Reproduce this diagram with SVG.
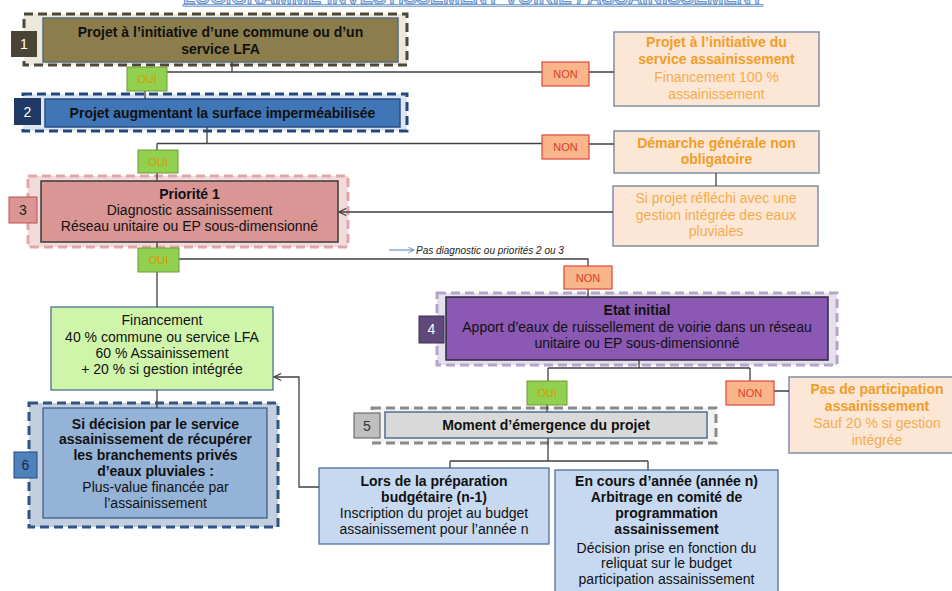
<svg xmlns="http://www.w3.org/2000/svg" width="952" height="591" viewBox="0 0 952 591">
<defs>
<style>
text{font-family:"Liberation Sans",Arial,sans-serif;}
.t{font-size:14px;fill:#111;text-anchor:middle;}
.b{font-weight:bold;}
.num{font-size:14px;text-anchor:middle;}
.con{fill:none;stroke:#404040;stroke-width:1.3;}
.oui rect{fill:#92d050;stroke:#6f9a3a;stroke-width:1;}
.oui text{font-size:11px;fill:#d89a00;text-anchor:middle;}
.non rect{fill:#f9b68a;stroke:#e0443c;stroke-width:1.2;}
.non text{font-size:11px;fill:#e03a2c;text-anchor:middle;}
.rbox{fill:#fce6d6;stroke:#7f8ea6;stroke-width:1.5;}
.ob{font-size:14px;font-weight:bold;fill:#f09e28;text-anchor:middle;}
.on{font-size:14px;fill:#f4ad4c;text-anchor:middle;}
.dash{stroke-width:3;stroke-dasharray:9 5;}
.lb{fill:#c6d9f1;stroke:#4f6f9f;stroke-width:1.3;}
</style>
<marker id="arr" viewBox="0 0 10 10" refX="9" refY="5" markerWidth="9" markerHeight="9" orient="auto" markerUnits="userSpaceOnUse">
<path d="M1,1 L9,5 L1,9" fill="none" stroke="#404040" stroke-width="1.3"/>
</marker>
<marker id="arrb" viewBox="0 0 10 10" refX="9" refY="5" markerWidth="7" markerHeight="7" orient="auto" markerUnits="userSpaceOnUse">
<path d="M1,1 L9,5 L1,9" fill="none" stroke="#4f81bd" stroke-width="1.2"/>
</marker>
</defs>
<rect width="952" height="591" fill="#ffffff"/>

<g id="title">
<text x="183" y="4" font-size="20" font-weight="bold" fill="#c6d9f1" stroke="#4f81bd" stroke-width="0.8" textLength="580" lengthAdjust="spacingAndGlyphs">LOGIGRAMME INVESTISSEMENT VOIRIE / ASSAINISSEMENT</text>
<rect x="183" y="4.5" width="580" height="1.8" fill="#c6d9f1" stroke="#4f81bd" stroke-width="0.6"/>
</g>

<g id="node1">
<rect x="24" y="14" width="383" height="51" fill="#ece8dc" stroke="#4d4835" class="dash"/>
<rect x="43" y="18" width="355" height="44" fill="#8c7e4c" stroke="#5a6a80" stroke-width="1.5"/>
<text class="t b" x="220.5"><tspan x="220.5" y="37">Projet à l’initiative  d’une commune ou d’un</tspan><tspan x="220.5" y="54">service LFA</tspan></text>
<rect x="11" y="31" width="26" height="26" fill="#4a4434"/>
<text class="num" x="24" y="49" fill="#ffffff">1</text>
</g>

<g id="node2">
<rect x="23" y="94" width="384" height="37" fill="#dce6f2" stroke="#1f497d" class="dash"/>
<rect x="45" y="99" width="355" height="28" fill="#4076b8" stroke="#2a4f80" stroke-width="1.5"/>
<text class="t b" x="222.5" y="118">Projet augmentant la surface imperméabilisée</text>
<rect x="14" y="98" width="27" height="27" fill="#1f3864"/>
<text class="num" x="27.5" y="117" fill="#ffffff">2</text>
</g>

<g id="node3">
<rect x="28" y="176" width="320" height="71" fill="#f2dcdb" stroke="#e2a6a8" class="dash"/>
<rect x="41" y="181" width="297" height="61" fill="#d99694" stroke="#3a3a3a" stroke-width="1.5"/>
<text class="t" x="189.5"><tspan class="b" x="189.5" y="199">Priorité 1</tspan><tspan x="189.5" y="215">Diagnostic assainissement</tspan><tspan x="189.5" y="231">Réseau unitaire ou EP sous-dimensionné</tspan></text>
<rect x="9" y="197" width="28" height="26" fill="#d99694" stroke="#c0504d" stroke-width="1"/>
<text class="num" x="23" y="215" fill="#222">3</text>
</g>

<g id="nodeA">
<rect class="rbox" x="614" y="32" width="205" height="74"/>
<text class="ob" x="716.5" y="47">Projet à l’initiative  du</text>
<text class="ob" x="716.5" y="64">service assainissement</text>
<text class="on" x="716.5" y="82">Financement 100 %</text>
<text class="on" x="716.5" y="99">assainissement</text>
</g>

<g id="nodeB">
<rect class="rbox" x="614" y="131" width="205" height="42"/>
<text class="ob" x="716.5" y="148">Démarche générale non</text>
<text class="ob" x="716.5" y="164">obligatoire</text>
</g>

<g id="nodeC">
<rect class="rbox" x="613" y="186" width="205" height="60"/>
<text class="on" x="716" y="203">Si projet réfléchi avec une</text>
<text class="on" x="716" y="220">gestion intégrée des eaux</text>
<text class="on" x="716" y="236">pluviales</text>
</g>

<g id="financement">
<rect x="51" y="307" width="222" height="83" fill="#cff5ab" stroke="#4a7090" stroke-width="1.3"/>
<text class="t" x="162"><tspan x="162" y="325">Financement</tspan><tspan x="162" y="342">40 % commune ou service LFA</tspan><tspan x="162" y="358">60 % Assainissement</tspan><tspan x="162" y="374">+ 20 % si gestion intégrée</tspan></text>
</g>

<g id="node4">
<rect x="437" y="293" width="400" height="72" fill="#e6e0ee" stroke="#b3a5c8" class="dash"/>
<rect x="446" y="297" width="382" height="63" fill="#8b58b3" stroke="#2a2a3a" stroke-width="1.5"/>
<text class="t" x="637"><tspan class="b" x="637" y="315">Etat initial</tspan><tspan x="637" y="332">Apport d’eaux de ruissellement de voirie dans un réseau</tspan><tspan x="637" y="348">unitaire ou EP sous-dimensionné</tspan></text>
<rect x="419" y="316" width="25" height="27" fill="#5f497a" stroke="#3f3151" stroke-width="1"/>
<text class="num" x="431.5" y="334" fill="#ffffff">4</text>
</g>

<g id="nodeD">
<rect class="rbox" x="789" y="377" width="175" height="76"/>
<text class="ob" x="877" y="394">Pas de participation</text>
<text class="ob" x="877" y="411">assainissement</text>
<text class="on" x="877" y="428">Sauf 20 % si gestion</text>
<text class="on" x="877" y="445">intégrée</text>
</g>

<g id="node5">
<rect x="372" y="408" width="344" height="35" fill="#f2f2f2" stroke="#8a8a8a" class="dash"/>
<rect x="385" y="412" width="322" height="26" fill="#d9d9d9" stroke="#4f6f90" stroke-width="1.5"/>
<text class="t b" x="546" y="430">Moment d’émergence du projet</text>
<rect x="354" y="413" width="26" height="25" fill="#bfbfbf" stroke="#595959" stroke-width="1"/>
<text class="num" x="367" y="431" fill="#333">5</text>
</g>

<g id="node6">
<rect x="29" y="403" width="249" height="124" fill="#c3cfdf" stroke="#2f5585" class="dash"/>
<rect x="43" y="408" width="224" height="110" fill="#95b3d7" stroke="#3f5f8f" stroke-width="1.3"/>
<text class="t" x="155.5"><tspan class="b" x="155.5" y="429">Si décision par le service</tspan><tspan class="b" x="155.5" y="444">assainissement de récupérer</tspan><tspan class="b" x="155.5" y="460">les branchements privés</tspan><tspan class="b" x="155.5" y="476">d’eaux pluviales :</tspan><tspan x="155.5" y="492">Plus-value financée par</tspan><tspan x="155.5" y="508">l’assainissement</tspan></text>
<rect x="14" y="452" width="23" height="26" fill="#4f81bd" stroke="#1f497d" stroke-width="1"/>
<text class="num" x="25.5" y="470" fill="#1a2a44">6</text>
</g>

<g id="lors">
<rect class="lb" x="319" y="468" width="230" height="76"/>
<text class="t" x="434"><tspan class="b" x="434" y="486">Lors de la préparation</tspan><tspan class="b" x="434" y="502">budgétaire (n-1)</tspan><tspan x="434" y="518">Inscription du projet au budget</tspan><tspan x="434" y="534">assainissement pour l’année n</tspan></text>
</g>

<g id="encours">
<rect class="lb" x="555" y="470" width="223" height="130"/>
<text class="t" x="666.5"><tspan class="b" x="666.5" y="486">En cours d’année (année n)</tspan><tspan class="b" x="666.5" y="502">Arbitrage en comité de</tspan><tspan class="b" x="666.5" y="518">programmation</tspan><tspan class="b" x="666.5" y="534">assainissement</tspan><tspan x="666.5" y="553">Décision prise en fonction du</tspan><tspan x="666.5" y="568">reliquat sur le budget</tspan><tspan x="666.5" y="584">participation assainissement</tspan></text>
</g>

<g id="connectors">
<path class="con" d="M232,62 V72 M145,72 H542 M589,72 H614 M145,91 V99"/>
<path class="con" d="M207,127 V143.5 M157,143.5 H542 M589,144 H614 M157,143.5 V150 M157,173 V181"/>
<path class="con" d="M716,173 V186"/>
<path class="con" d="M613,212 H339" marker-end="url(#arr)"/>
<path class="con" d="M157,242 V248 M179,259 H588 V266 M588,289 V297 M157,272 V307"/>
<path class="con" d="M157,390 V408"/>
<path class="con" d="M319,487 H299 V377 H274" marker-end="url(#arr)"/>
<path class="con" d="M639,360 V368 M548,368 H750 M548,368 V381 M750,368 V381 M774,391 H789 M547,405 V412"/>
<path class="con" d="M548,438 V461 M450,461 H648 M450,461 V468 M648,461 V470"/>
<path d="M389,250 H414" fill="none" stroke="#4f81bd" stroke-width="1" marker-end="url(#arrb)"/>
<text x="416" y="254" font-size="10" font-style="italic" fill="#222">Pas diagnostic ou priorités 2 ou 3</text>
</g>

<g id="oui1" class="oui"><rect x="127" y="67" width="40" height="24"/><text x="147" y="83">OUI</text></g>
<g id="oui2" class="oui"><rect x="138" y="150" width="40" height="23"/><text x="158" y="166">OUI</text></g>
<g id="oui3" class="oui"><rect x="138" y="248" width="41" height="24"/><text x="158.5" y="264">OUI</text></g>
<g id="oui4" class="oui"><rect x="527" y="381" width="40" height="24"/><text x="547" y="397">OUI</text></g>

<g id="non1" class="non"><rect x="542" y="62" width="47" height="24"/><text x="565.5" y="78">NON</text></g>
<g id="non2" class="non"><rect x="542" y="135" width="47" height="24"/><text x="565.5" y="151">NON</text></g>
<g id="non3" class="non"><rect x="564" y="266" width="48" height="23"/><text x="588" y="282">NON</text></g>
<g id="non4" class="non"><rect x="726" y="381" width="48" height="24"/><text x="750" y="397">NON</text></g>
</svg>
